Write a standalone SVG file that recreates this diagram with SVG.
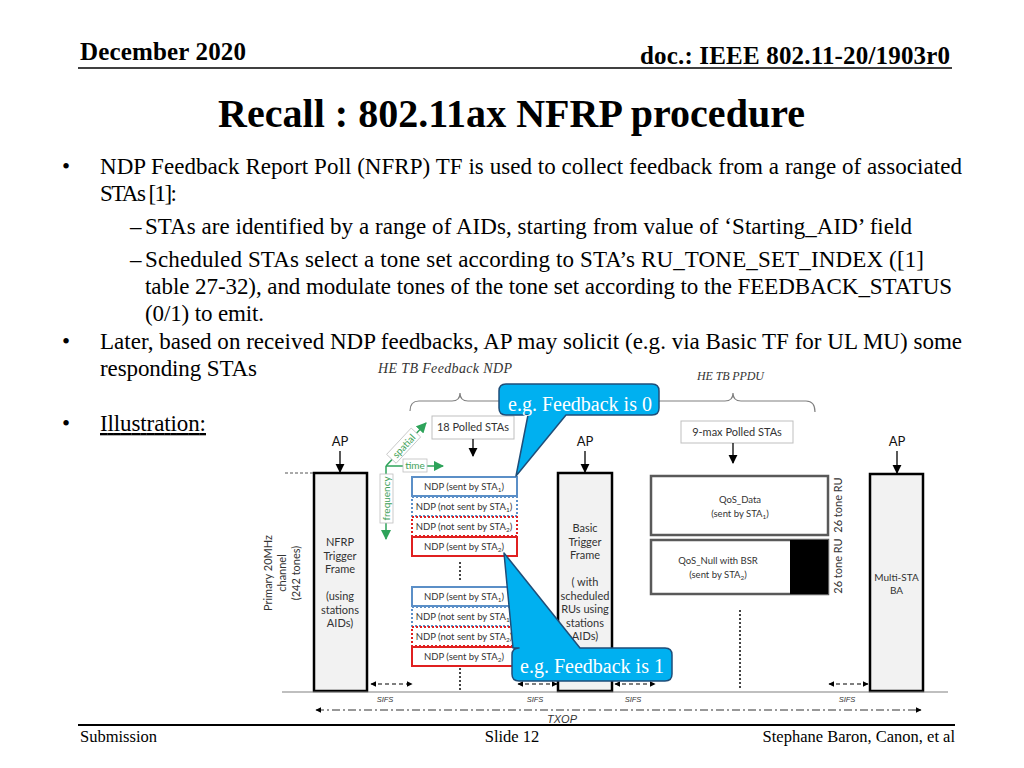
<svg xmlns="http://www.w3.org/2000/svg" width="1024" height="768" viewBox="0 0 1024 768">
<defs>
<style>
.serif{font-family:"Liberation Serif","Times New Roman",serif;fill:#000}
.hdr{font-family:"Liberation Serif",serif;font-weight:bold;font-size:25px}
.body{font-family:"Liberation Serif",serif;font-size:23px;fill:#000}
.cal{font-family:Lato,"Open Sans","Liberation Sans",sans-serif;fill:#333}
.lbl{font-size:11px;text-anchor:middle}
.ndp{font-size:9.5px;text-anchor:middle}
.ital{font-family:"Liberation Serif",serif;font-style:italic;fill:#333}
.sifs{font-family:"Liberation Sans",sans-serif;font-style:italic;font-size:7.5px;fill:#333;text-anchor:middle}
.txop{font-family:"Liberation Sans",sans-serif;font-style:italic;font-size:11px;fill:#333;text-anchor:middle}
.frame{fill:#f2f2f2;stroke:#000;stroke-width:2.5}
.brace{fill:none;stroke:#808080;stroke-width:1.2}
.bsolid{fill:#fff;stroke:#5b8fc7;stroke-width:2}
.bdot{fill:#fff;stroke:#5b8fc7;stroke-width:2;stroke-dasharray:2 2}
.rsolid{fill:#fff;stroke:#e02020;stroke-width:2}
.rdot{fill:#fff;stroke:#e02020;stroke-width:2;stroke-dasharray:2 2}
.qos{fill:#fff;stroke:#595959;stroke-width:2.5}
.green{stroke:#2ea35a;stroke-width:1.5;fill:none}
.gtext{font-family:Lato,"Open Sans",sans-serif;font-size:10px;fill:#3fa25a}
.gbox{fill:#fff;stroke:#bfbfbf;stroke-width:0.8}
.call{fill:#00b0f0;stroke:#1f4e79;stroke-width:1.5;stroke-linejoin:round}
.ctext{font-family:"Liberation Serif",serif;font-size:20px;fill:#fff;text-anchor:middle}
.dotv{stroke:#444;stroke-width:2;stroke-dasharray:2 2}
</style>
<marker id="ah" viewBox="0 0 10 10" refX="9" refY="5" markerWidth="7" markerHeight="7" orient="auto"><path d="M0,0 L10,5 L0,10 z" fill="#000"/></marker>
<marker id="gh" viewBox="0 0 10 10" refX="9" refY="5" markerWidth="7" markerHeight="7" orient="auto"><path d="M0,0 L10,5 L0,10 z" fill="#2ea35a"/></marker>
<marker id="sh" viewBox="0 0 10 10" refX="9" refY="5" markerWidth="5" markerHeight="5" orient="auto-start-reverse"><path d="M0,0 L10,5 L0,10 z" fill="#000"/></marker>
</defs>
<rect width="1024" height="768" fill="#fff"/>

<!-- header -->
<g id="header">
<text x="80" y="60" class="hdr" textLength="166">December 2020</text>
<text x="640" y="64" class="hdr" textLength="310">doc.: IEEE 802.11-20/1903r0</text>
<line x1="78" y1="68" x2="952" y2="68" stroke="#000" stroke-width="1.5"/>
<text x="218" y="127" class="serif" font-size="40" font-weight="bold" textLength="587">Recall : 802.11ax NFRP procedure</text>
</g>

<!-- bullets -->
<g id="bullets" class="body">
<text x="62" y="174">•</text>
<text x="100" y="174" textLength="862">NDP Feedback Report Poll (NFRP) TF is used to collect feedback from a range of associated</text>
<text x="100" y="201" textLength="77">STAs [1]:</text>
<text x="130" y="234">–</text>
<text x="145" y="234" textLength="767">STAs are identified by a range of AIDs, starting from value of  ‘Starting_AID’ field</text>
<text x="130" y="267">–</text>
<text x="145" y="267" textLength="779">Scheduled STAs select a tone set according to STA’s RU_TONE_SET_INDEX  ([1]</text>
<text x="145" y="294" textLength="807">table 27-32), and modulate tones of the tone set according to the FEEDBACK_STATUS</text>
<text x="145" y="321" textLength="119">(0/1) to emit.</text>
<text x="62" y="349">•</text>
<text x="100" y="349" textLength="862">Later, based on received NDP feedbacks, AP may solicit (e.g. via Basic TF for UL MU) some</text>
<text x="100" y="376" textLength="157">responding STAs</text>
<text x="62" y="431">•</text>
<text x="100" y="431" text-decoration="underline" textLength="106">Illustration:</text>
</g>

<!-- braces & group labels -->
<g id="braces">
<text x="378" y="373" class="ital" font-size="14" textLength="134">HE TB Feedback NDP</text>
<path class="brace" d="M410,411 Q410,401 419,401 L452,401 Q460,401 460,393 Q460,401 468,401 L501,401 Q510,401 510,411"/>
<text x="697" y="380" class="ital" font-size="12" textLength="67">HE TB PPDU</text>
<path class="brace" d="M651,411 Q651,401 660,401 L725,401 Q733,401 733,393 Q733,401 741,401 L806,401 Q815,401 815,412"/>
</g>

<!-- polled boxes -->
<g id="polled18">
<rect x="432" y="416" width="82" height="23" fill="#fff" stroke="#bfbfbf" stroke-width="1"/>
<text x="473" y="431" class="cal lbl">18 Polled STAs</text>
</g>
<g id="polled9">
<rect x="681" y="421" width="112" height="22" fill="#fff" stroke="#bfbfbf" stroke-width="1"/>
<text x="737" y="436" class="cal lbl">9-max Polled STAs</text>
</g>

<!-- AP labels -->
<g id="ap-labels" class="cal" font-size="13" text-anchor="middle">
<text x="340" y="446" fill="#111">AP</text>
<text x="585" y="446" fill="#111">AP</text>
<text x="897" y="446" fill="#111">AP</text>
</g>

<!-- axes -->
<g id="axes">
<line class="green" x1="386" y1="466" x2="386" y2="539" marker-end="url(#gh)"/>
<line class="green" x1="386" y1="466" x2="443" y2="466" marker-end="url(#gh)"/>
<line class="green" x1="386" y1="466" x2="426" y2="423" marker-end="url(#gh)"/>
<rect class="gbox" x="380" y="474" width="13" height="49"/>
<text class="gtext" transform="translate(390,498.5) rotate(-90)" text-anchor="middle">frequency</text>
<rect class="gbox" x="403" y="459" width="24" height="13"/>
<text class="gtext" x="415" y="469" text-anchor="middle">time</text>
<g transform="translate(404,446) rotate(-47)">
<rect class="gbox" x="-18" y="-7" width="36" height="13"/>
<text class="gtext" x="0" y="3.5" text-anchor="middle">spatial</text>
</g>
</g>

<!-- side label -->
<g id="channel-label" class="cal" font-size="11" text-anchor="middle">
<text transform="translate(272,573) rotate(-90)">Primary 20MHz</text>
<text transform="translate(286,573) rotate(-90)">channel</text>
<text transform="translate(300,573) rotate(-90)">(242 tones)</text>
</g>

<!-- frames -->
<g id="nfrp">
<rect class="frame" x="314" y="473" width="53" height="218"/>
<g class="cal lbl">
<text x="340" y="546">NFRP</text>
<text x="340" y="560">Trigger</text>
<text x="340" y="573">Frame</text>
<text x="340" y="600">(using</text>
<text x="340" y="614">stations</text>
<text x="340" y="627">AIDs)</text>
</g>
</g>
<g id="basic">
<rect class="frame" x="558" y="473" width="54" height="218"/>
<g class="cal lbl">
<text x="585" y="532">Basic</text>
<text x="585" y="546">Trigger</text>
<text x="585" y="559">Frame</text>
<text x="585" y="586">( with</text>
<text x="585" y="600">scheduled</text>
<text x="585" y="613">RUs using</text>
<text x="585" y="627">stations</text>
<text x="585" y="640">AIDs)</text>
</g>
</g>
<g id="multista">
<rect class="frame" x="870" y="474" width="53" height="217"/>
<g class="cal" font-size="10" text-anchor="middle">
<text x="896.5" y="581">Multi-STA</text>
<text x="896.5" y="594">BA</text>
</g>
</g>

<!-- NDP group 1 -->
<g id="ndp-group1" class="cal ndp">
<rect class="bsolid" x="412" y="477" width="105" height="19"/>
<text x="464" y="490">NDP (sent by STA<tspan font-size="6.5" dy="2">1</tspan><tspan dy="-2">)</tspan></text>
<rect class="bdot" x="412" y="497" width="105" height="19"/>
<text x="464" y="510">NDP (not sent by STA<tspan font-size="6.5" dy="2">1</tspan><tspan dy="-2">)</tspan></text>
<rect class="rdot" x="412" y="517" width="105" height="19"/>
<text x="464" y="530">NDP (not sent by STA<tspan font-size="6.5" dy="2">2</tspan><tspan dy="-2">)</tspan></text>
<rect class="rsolid" x="412" y="537" width="105" height="19"/>
<text x="464" y="550">NDP (sent by STA<tspan font-size="6.5" dy="2">2</tspan><tspan dy="-2">)</tspan></text>
</g>
<!-- NDP group 2 -->
<g id="ndp-group2" class="cal ndp">
<rect class="bsolid" x="412" y="587" width="105" height="19"/>
<text x="464" y="600">NDP (sent by STA<tspan font-size="6.5" dy="2">1</tspan><tspan dy="-2">)</tspan></text>
<rect class="bdot" x="412" y="607" width="105" height="19"/>
<text x="464" y="620">NDP (not sent by STA<tspan font-size="6.5" dy="2">1</tspan><tspan dy="-2">)</tspan></text>
<rect class="rdot" x="412" y="627" width="105" height="19"/>
<text x="464" y="640">NDP (not sent by STA<tspan font-size="6.5" dy="2">2</tspan><tspan dy="-2">)</tspan></text>
<rect class="rsolid" x="412" y="647" width="105" height="19"/>
<text x="464" y="660">NDP (sent by STA<tspan font-size="6.5" dy="2">2</tspan><tspan dy="-2">)</tspan></text>
</g>

<!-- QoS frames -->
<g id="qos-data">
<rect class="qos" x="651" y="476" width="177" height="59"/>
<text x="740" y="503" class="cal ndp">QoS_Data</text>
<text x="740" y="517" class="cal ndp">(sent by STA<tspan font-size="6.5" dy="2">1</tspan><tspan dy="-2">)</tspan></text>
<text class="cal" font-size="11" text-anchor="middle" transform="translate(842,505) rotate(-90)">26 tone RU</text>
</g>
<g id="qos-null">
<rect class="qos" x="651" y="540" width="177" height="54"/>
<rect x="790" y="540" width="38" height="54" fill="#000"/>
<text x="718" y="564" class="cal ndp">QoS_Null with BSR</text>
<text x="718" y="578" class="cal ndp">(sent by STA<tspan font-size="6.5" dy="2">2</tspan><tspan dy="-2">)</tspan></text>
<text class="cal" font-size="11" text-anchor="middle" transform="translate(842,566) rotate(-90)">26 tone RU</text>
</g>

<!-- connectors -->
<g id="connectors">
<line x1="340" y1="451" x2="340" y2="472" stroke="#000" stroke-width="1.3" marker-end="url(#ah)"/>
<line x1="585" y1="451" x2="585" y2="472" stroke="#000" stroke-width="1.3" marker-end="url(#ah)"/>
<line x1="897" y1="451" x2="897" y2="473" stroke="#000" stroke-width="1.3" marker-end="url(#ah)"/>
<line x1="473" y1="439" x2="473" y2="456" stroke="#000" stroke-width="1.3" marker-end="url(#ah)"/>
<line x1="733" y1="443" x2="733" y2="463" stroke="#000" stroke-width="1.3" marker-end="url(#ah)"/>
<line x1="285" y1="473" x2="313" y2="473" stroke="#555" stroke-width="1" stroke-dasharray="3 2"/>
<line class="dotv" x1="460" y1="562" x2="460" y2="581"/>
<line class="dotv" x1="460" y1="668" x2="460" y2="690"/>
<line class="dotv" x1="740" y1="610" x2="740" y2="690"/>
<line x1="282" y1="692" x2="948" y2="692" stroke="#808080" stroke-width="1.2"/>
<g stroke="#000" stroke-width="1.2" stroke-dasharray="4 3">
<line x1="371" y1="684" x2="412" y2="684" marker-start="url(#sh)" marker-end="url(#sh)"/>
<line x1="518" y1="684" x2="557" y2="684" marker-start="url(#sh)" marker-end="url(#sh)"/>
<line x1="615" y1="684" x2="655" y2="684" marker-start="url(#sh)" marker-end="url(#sh)"/>
<line x1="829" y1="684" x2="868" y2="684" marker-start="url(#sh)" marker-end="url(#sh)"/>
</g>
<line x1="316" y1="710" x2="921" y2="710" stroke="#333" stroke-width="1.2" stroke-dasharray="8 3 2 3" marker-start="url(#sh)" marker-end="url(#sh)"/>
</g>
<g id="timing-labels">
<text x="385" y="702" class="sifs">SIFS</text>
<text x="535" y="702" class="sifs">SIFS</text>
<text x="633" y="702" class="sifs">SIFS</text>
<text x="847" y="702" class="sifs">SIFS</text>
<text x="562" y="723" class="txop">TXOP</text>
</g>

<!-- callouts -->
<g id="callout0">
<path class="call" d="M506,384 L652,384 Q659,384 659,391 L659,408 Q659,415 652,415 L566,415 L516,476 L528,415 L506,415 Q499,415 499,408 L499,391 Q499,384 506,384 Z"/>
<text x="580" y="411" class="ctext">e.g. Feedback is 0</text>
</g>
<g id="callout1">
<path class="call" d="M519,648 L513,648 L504,553 L580,648 L665,648 Q672,648 672,655 L672,674 Q672,681 665,681 L519,681 Q512,681 512,674 L512,655 Q512,648 519,648 Z"/>
<text x="592" y="673" class="ctext">e.g. Feedback is 1</text>
</g>

<!-- footer -->
<g id="footer">
<line x1="78" y1="725" x2="955" y2="725" stroke="#000" stroke-width="1.8"/>
<text x="80" y="742" class="serif" font-size="16.5">Submission</text>
<text x="512" y="742" class="serif" font-size="16.5" text-anchor="middle">Slide 12</text>
<text x="955" y="742" class="serif" font-size="16.5" text-anchor="end">Stephane Baron, Canon, et al</text>
</g>
</svg>
